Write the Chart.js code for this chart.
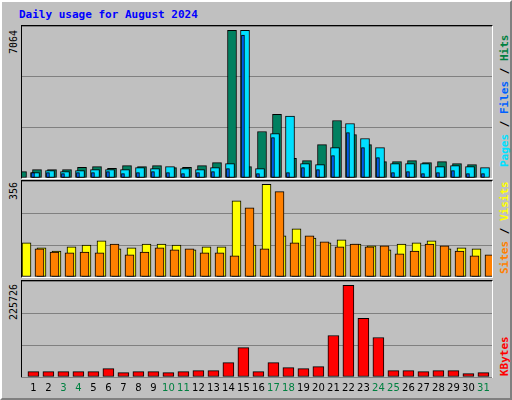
<!DOCTYPE html>
<html><head><meta charset="utf-8">
<script src="https://cdn.jsdelivr.net/npm/chart.js@4"></script>
<style>
html,body{margin:0;padding:0;background:#C0C0C0;}
#wrap{position:absolute;left:0;top:0;width:508px;height:396px;border-top:2px solid #fff;border-left:2px solid #fff;border-right:2px solid #808080;border-bottom:2px solid #808080;background:#C0C0C0;font-family:"DejaVu Sans Mono",monospace;font-weight:bold;font-size:11px;}
.panel{position:absolute;left:19px;width:470px;border-top:1px solid #000;border-left:1px solid #000;border-right:1px solid #fff;border-bottom:1px solid #fff;}
canvas{position:absolute;}
.rot{position:absolute;transform-origin:0 0;transform:rotate(-90deg);white-space:pre;}
</style></head><body>
<div id="wrap">
<div style="position:absolute;left:17px;top:6px;color:#0000FF;">Daily usage for August 2024</div>
<div class="panel" style="top:23px;height:152px"></div>
<div class="panel" style="top:178px;height:96px"></div>
<div class="panel" style="top:278px;height:96px"></div>
<div class="rot" style="left:6px;top:52px;color:#000;font-weight:normal;font-size:10px">7064</div>
<div class="rot" style="left:6px;top:198px;color:#000;font-weight:normal;font-size:10px">356</div>
<div class="rot" style="left:6px;top:318px;color:#000;font-weight:normal;font-size:10px">225726</div>
<div class="rot" style="left:496px;top:165px"><span style="color:#00E0FF">Pages</span> / <span style="color:#0060FF">Files</span> / <span style="color:#008040">Hits</span></div>
<div class="rot" style="left:496px;top:272px"><span style="color:#FF8000">Sites</span> / <span style="color:#FFFF00">Visits</span></div>
<div class="rot" style="left:496px;top:374px"><span style="color:#FF0000">KBytes</span></div>
</div>
<canvas id="c1" width="470" height="152" style="left:22px;top:26px"></canvas>
<canvas id="c2" width="470" height="96" style="left:22px;top:181px"></canvas>
<canvas id="c3" width="470" height="116" style="left:22px;top:281px"></canvas>
<script>
const days=[1,2,3,4,5,6,7,8,9,10,11,12,13,14,15,16,17,18,19,20,21,22,23,24,25,26,27,28,29,30,31];
const weekend=[3,4,10,11,17,18,24,25,31];
const hits=[304,400,400,400,512,544,464,592,544,592,496,512,592,736,7064,544,2224,3040,944,832,1600,2752,2080,1600,784,784,832,736,784,688,640];
const files=[256,352,304,352,400,400,400,496,448,544,448,400,496,688,7064,448,2128,2960,688,640,1456,2608,1888,1456,688,688,688,544,592,544,496];
const pages=[256,256,208,256,256,304,208,256,304,256,208,256,304,448,6840,208,1936,256,496,400,1072,2176,1456,976,256,304,208,256,352,208,208];
const visits=[131,112,100,116,123,139,108,112,127,127,123,104,116,116,293,123,356,158,185,150,131,143,127,120,104,127,131,139,108,112,108];
const sites=[108,96,93,96,93,127,85,96,112,104,108,93,93,81,266,108,328,131,158,135,116,127,116,120,89,100,127,120,100,81,85];
const kbytes=[13181,13181,13181,13181,13181,20595,10709,13181,13181,10709,13181,15652,15652,35423,72494,13181,35423,23066,20595,25538,102150,225726,144162,97207,15652,15652,13181,15652,15652,8238,10709];
const grid='#808080';
function xs(min){return {type:'linear',min:min,max:min+470/15,offset:false,bounds:'ticks',display:false,grace:0};}
function yAxis(max){return {min:0,max:max,grid:{color:grid,drawTicks:false},border:{display:false},ticks:{display:false,stepSize:max/3}};}
function ds(data,color,axis,w,ord){return {data:days.map((d,i)=>({x:d,y:data[i]})),backgroundColor:color,borderColor:'#000',borderWidth:1,borderSkipped:false,barThickness:w,xAxisID:axis,order:ord};}
const base={responsive:false,animation:false,plugins:{legend:{display:false},tooltip:{enabled:false}},layout:{padding:0}};
new Chart(document.getElementById('c1'),{type:'bar',data:{datasets:[
 ds(hits,'#008060','xh',9,3),ds(files,'#00E0FF','xf',9,2),ds(pages,'#0060FF','xp',3,1)]},
 options:{...base,scales:{xh:xs(0.4),xf:xs(0.133),xp:xs(0.47),y:yAxis(7270)}}});
new Chart(document.getElementById('c2'),{type:'bar',data:{datasets:[
 ds(visits,'#FFFF00','xv',9,2),ds(sites,'#FF8000','xs',9,1)]},
 options:{...base,scales:{xv:xs(0.4),xs:xs(0.133),y:yAxis(369)}}});
new Chart(document.getElementById('c3'),{type:'bar',data:{datasets:[ds(kbytes,'#FF0000','xk',11,1)]},
 options:{...base,layout:{padding:{bottom:20}},scales:{xk:xs(0.24),y:yAxis(236350)}},
 plugins:[{id:'days',afterDraw(ch){const c=ch.ctx,s=ch.scales.xk;c.save();c.font='10px "DejaVu Sans",sans-serif';c.textAlign='center';c.textBaseline='top';
  days.forEach(d=>{c.fillStyle=weekend.includes(d)?'#008040':'#000';c.fillText(String(d),s.getPixelForValue(d),102);});c.restore();}}]});
</script></body></html>
